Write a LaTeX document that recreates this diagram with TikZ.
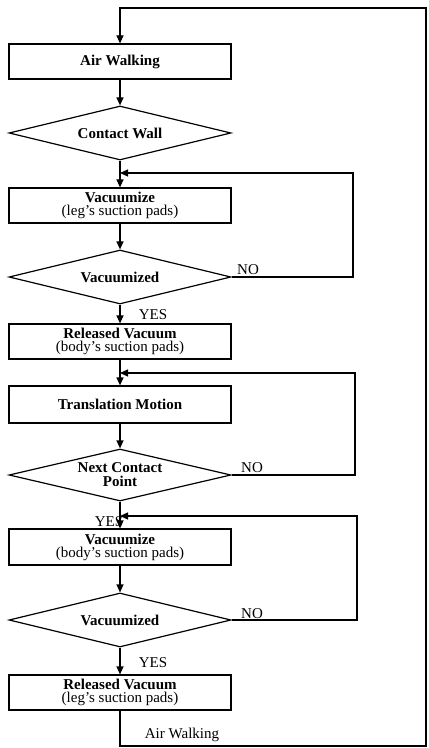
\documentclass[tikz,border=0pt]{standalone}
\usepackage{fontspec}
\setmainfont{Liberation Serif}
\usetikzlibrary{arrows.meta,positioning,shapes.geometric}

\begin{document}
\begin{tikzpicture}[x=0.5pt,y=-0.5pt,line width=0.6pt,
    >={Triangle[length=4pt,width=3.5pt]},
    every node/.style={font=\fontsize{7.5}{9}\selectfont},
    stepbox/.style={draw,rectangle,minimum width=111pt,minimum height=17.5pt,inner sep=0pt,align=center},
    test/.style={draw,diamond,aspect=4.2,minimum width=111pt,minimum height=27pt,inner sep=0pt,align=center},
    lbl/.style={inner sep=1pt}]
  \useasboundingbox (0,0) rectangle (428,748);
  \begin{scope}
    \node[stepbox] (air) at (120,61.5) {\textbf{Air Walking}};
    \node[test] (wall) at (120,133) {\textbf{Contact Wall}};
    \node[stepbox] (vac1) at (120,205.5) {\textbf{Vacuumize}\\[-2.5pt](leg's suction pads)};
    \node[test] (chk1) at (120,277) {\textbf{Vacuumized}};
    \node[stepbox] (rel1) at (120,341.5) {\textbf{Released Vacuum}\\[-2.5pt](body's suction pads)};
    \node[stepbox,minimum height=18.5pt] (trans) at (120,404.5) {\textbf{Translation Motion}};
    \node[test,minimum height=26pt] (next) at (120,475) {\textbf{Next Contact}\\[-2pt]\textbf{Point}};
    \node[stepbox,minimum height=18pt] (vac2) at (120,547) {\textbf{Vacuumize}\\[-2.5pt](body's suction pads)};
    \node[test] (chk2) at (120,620) {\textbf{Vacuumized}};
    \node[stepbox] (rel2) at (120,692.5) {\textbf{Released Vacuum}\\[-2.5pt](leg's suction pads)};
  \end{scope}
  \begin{scope}
    \coordinate (m1) at (120,173); % back to vacuumize (legs)
    \coordinate (c1) at (353,173);
    \coordinate (m2) at (120,373); % back to translation
    \coordinate (c2) at (355,373);
    \coordinate (m3) at (120,516); % back to vacuumize (body)
    \coordinate (c3) at (357,516);
    \coordinate (lo) at (426,746); % air walking loop
    \coordinate (hi) at (426,8);
  \end{scope}
  \begin{scope}
    \draw[->] (air.south) -- (wall.north);
    \draw[->] (wall.south) -- (vac1.north);
    \draw[->] (vac1.south) -- (chk1.north);
    \draw[->] (chk1.south) -- (rel1.north);
    \draw[->] (rel1.south) -- (trans.north);
    \draw[->] (trans.south) -- (next.north);
    \draw[->] (next.south) -- (vac2.north);
    \draw[->] (vac2.south) -- (chk2.north);
    \draw[->] (chk2.south) -- (rel2.north);
  \end{scope}
  \begin{scope}
    \draw[->] (chk1.east) -| (c1) -- (m1); % NO
    \draw[->] (next.east) -| (c2) -- (m2); % NO
    \draw[->] (chk2.east) -| (c3) -- (m3); % NO
    \draw[->] (rel2.south) |- (lo) -- (hi) -| (air.north);
  \end{scope}
  \begin{scope}
    \node[lbl] (no1) at (248,270) {NO};
    \node[lbl] (no2) at (252,468) {NO};
    \node[lbl] (no3) at (252,614) {NO};
    \node[lbl] (yes1) at (153,315) {YES};
    \node[lbl] (yes2) at (109,522) {YES};
    \node[lbl] (yes3) at (153,663) {YES};
    \node[lbl] (back) at (182,735) {Air Walking};
  \end{scope}
\end{tikzpicture}
\end{document}
